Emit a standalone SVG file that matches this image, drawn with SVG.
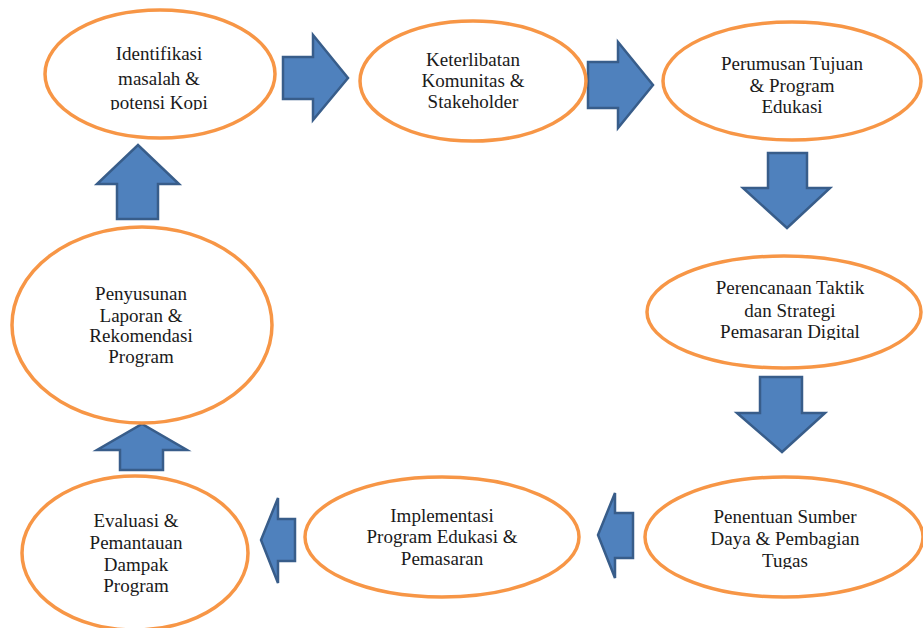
<svg xmlns="http://www.w3.org/2000/svg" width="923" height="628" viewBox="0 0 923 628">
<style>
.node ellipse{fill:#fff;stroke:#F79646;stroke-width:3.5}
.node text{font-family:'Liberation Serif','DejaVu Serif',serif;font-size:19px;fill:#1a1a1a;text-anchor:middle}
.arrow{fill:#4F81BD;stroke:#385D8A;stroke-width:2.5;stroke-linejoin:miter}
</style>
<defs>
<clipPath id="c1"><rect x="0" y="0" width="923" height="110"/></clipPath>
<clipPath id="c4"><rect x="0" y="0" width="923" height="340"/></clipPath>
<clipPath id="c5"><rect x="0" y="0" width="923" height="569"/></clipPath>
</defs>
<rect width="923" height="628" fill="#fff"/>
<g id="connectors">
<path class="arrow" d="M283,57 H313 V35 L348,78 L313,120 V99 H283 Z"/>
<path class="arrow" d="M588,62 H618 V42 L653,85 L618,128 V108 H588 Z"/>
<path class="arrow" d="M768,153 H807 V188 H830 L787,228 L743,188 H768 Z"/>
<path class="arrow" d="M760,377 H802 V413 H825 L782,452 L737,413 H760 Z"/>
<path class="arrow" d="M633,513 V558 H615 V578 L598,535 L615,493 V513 Z"/>
<path class="arrow" d="M295,519 V561 H278 V583 L261,540 L278,498 V519 Z"/>
<path class="arrow" d="M120,470 V450 H97 L142,424 L187,450 H163 V470 Z"/>
<path class="arrow" d="M117,219 V184 H97 L138,145 L179,184 H158 V219 Z"/>
</g>
<g id="node1" class="node" font-family="Liberation Serif, serif">
<ellipse cx="160" cy="74" rx="115" ry="64"/>
<text x="159" y="60" font-size="21">Identifikasi</text>
<text x="159" y="85" font-size="21">masalah &amp;</text>
<text x="159" y="109" font-size="21" clip-path="url(#c1)">potensi Kopi</text>
</g>
<g id="node2" class="node">
<ellipse cx="473" cy="81" rx="113" ry="60"/>
<text x="473" y="66">Keterlibatan</text>
<text x="473" y="87">Komunitas &amp;</text>
<text x="473" y="108">Stakeholder</text>
</g>
<g id="node3" class="node">
<ellipse cx="792" cy="81" rx="129" ry="59"/>
<text x="792" y="70">Perumusan Tujuan</text>
<text x="792" y="92">&amp; Program</text>
<text x="792" y="113">Edukasi</text>
</g>
<g id="node4" class="node">
<ellipse cx="784" cy="312" rx="137" ry="56"/>
<text x="790" y="294">Perencanaan Taktik</text>
<text x="790" y="317">dan Strategi</text>
<text x="790" y="338" clip-path="url(#c4)">Pemasaran Digital</text>
</g>
<g id="node5" class="node">
<ellipse cx="784" cy="537" rx="139" ry="60"/>
<text x="785" y="523">Penentuan Sumber</text>
<text x="785" y="545">Daya &amp; Pembagian</text>
<text x="785" y="567" clip-path="url(#c5)">Tugas</text>
</g>
<g id="node6" class="node">
<ellipse cx="442" cy="537" rx="137" ry="60"/>
<text x="442" y="522">Implementasi</text>
<text x="442" y="543">Program Edukasi &amp;</text>
<text x="442" y="565">Pemasaran</text>
</g>
<g id="node7" class="node">
<ellipse cx="135" cy="553" rx="113" ry="77"/>
<text x="136" y="527">Evaluasi &amp;</text>
<text x="136" y="549">Pemantauan</text>
<text x="136" y="571">Dampak</text>
<text x="136" y="592">Program</text>
</g>
<g id="node8" class="node">
<ellipse cx="142" cy="325" rx="130" ry="98"/>
<text x="141" y="300">Penyusunan</text>
<text x="141" y="322">Laporan &amp;</text>
<text x="141" y="342">Rekomendasi</text>
<text x="141" y="363">Program</text>
</g>
</svg>
